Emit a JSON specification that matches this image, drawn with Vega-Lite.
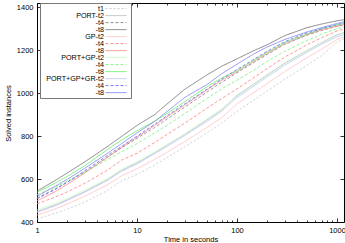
{
"$schema": "https://vega.github.io/schema/vega-lite/v6.json",
"width": 307, "height": 219,
"autosize": {"type": "none"},
"padding": {"left": 37, "top": 3, "right": 1, "bottom": 21},
"config": {"font": "Liberation Sans", "view": {"stroke": "black", "strokeWidth": 1},
 "axis": {"labelFontSize": 7.5, "titleFontSize": 7.5, "titleFontWeight": "normal", "labelColor": "black", "titleColor": "black", "domain": false, "grid": false, "tickColor": "black", "tickWidth": 0.8}},
"data": {"values": [
{"s":"t1","t":1,"v":414},{"s":"t1","t":1.5,"v":440},{"s":"t1","t":2,"v":460},{"s":"t1","t":3,"v":492},{"s":"t1","t":5,"v":545},{"s":"t1","t":7,"v":592},{"s":"t1","t":10,"v":622},{"s":"t1","t":15,"v":665},{"s":"t1","t":20,"v":700},{"s":"t1","t":30,"v":750},{"s":"t1","t":50,"v":815},{"s":"t1","t":70,"v":860},{"s":"t1","t":100,"v":915},{"s":"t1","t":150,"v":970},{"s":"t1","t":200,"v":1010},{"s":"t1","t":300,"v":1065},{"s":"t1","t":500,"v":1130},{"s":"t1","t":700,"v":1175},{"s":"t1","t":1000,"v":1238},{"s":"t1","t":1175,"v":1254},
{"s":"PORT-t2","t":1,"v":448},{"s":"PORT-t2","t":1.5,"v":478},{"s":"PORT-t2","t":2,"v":503},{"s":"PORT-t2","t":3,"v":542},{"s":"PORT-t2","t":5,"v":596},{"s":"PORT-t2","t":7,"v":640},{"s":"PORT-t2","t":10,"v":675},{"s":"PORT-t2","t":15,"v":722},{"s":"PORT-t2","t":20,"v":758},{"s":"PORT-t2","t":30,"v":808},{"s":"PORT-t2","t":50,"v":875},{"s":"PORT-t2","t":70,"v":922},{"s":"PORT-t2","t":100,"v":990},{"s":"PORT-t2","t":150,"v":1045},{"s":"PORT-t2","t":200,"v":1085},{"s":"PORT-t2","t":300,"v":1140},{"s":"PORT-t2","t":500,"v":1198},{"s":"PORT-t2","t":700,"v":1235},{"s":"PORT-t2","t":1000,"v":1272},{"s":"PORT-t2","t":1175,"v":1282},
{"s":"PORT-t4","t":1,"v":512},{"s":"PORT-t4","t":1.5,"v":552},{"s":"PORT-t4","t":2,"v":585},{"s":"PORT-t4","t":3,"v":632},{"s":"PORT-t4","t":5,"v":700},{"s":"PORT-t4","t":7,"v":745},{"s":"PORT-t4","t":10,"v":790},{"s":"PORT-t4","t":15,"v":840},{"s":"PORT-t4","t":20,"v":880},{"s":"PORT-t4","t":30,"v":935},{"s":"PORT-t4","t":50,"v":1005},{"s":"PORT-t4","t":70,"v":1050},{"s":"PORT-t4","t":100,"v":1095},{"s":"PORT-t4","t":150,"v":1145},{"s":"PORT-t4","t":200,"v":1180},{"s":"PORT-t4","t":300,"v":1228},{"s":"PORT-t4","t":500,"v":1270},{"s":"PORT-t4","t":700,"v":1292},{"s":"PORT-t4","t":1000,"v":1312},{"s":"PORT-t4","t":1175,"v":1318},
{"s":"PORT-t8","t":1,"v":544},{"s":"PORT-t8","t":1.5,"v":592},{"s":"PORT-t8","t":2,"v":628},{"s":"PORT-t8","t":3,"v":680},{"s":"PORT-t8","t":5,"v":750},{"s":"PORT-t8","t":7,"v":798},{"s":"PORT-t8","t":10,"v":850},{"s":"PORT-t8","t":15,"v":900},{"s":"PORT-t8","t":20,"v":950},{"s":"PORT-t8","t":30,"v":1018},{"s":"PORT-t8","t":50,"v":1085},{"s":"PORT-t8","t":70,"v":1125},{"s":"PORT-t8","t":100,"v":1160},{"s":"PORT-t8","t":150,"v":1200},{"s":"PORT-t8","t":200,"v":1225},{"s":"PORT-t8","t":300,"v":1268},{"s":"PORT-t8","t":500,"v":1305},{"s":"PORT-t8","t":700,"v":1322},{"s":"PORT-t8","t":1000,"v":1337},{"s":"PORT-t8","t":1175,"v":1342},
{"s":"GP-t2","t":1,"v":432},{"s":"GP-t2","t":1.5,"v":460},{"s":"GP-t2","t":2,"v":484},{"s":"GP-t2","t":3,"v":520},{"s":"GP-t2","t":5,"v":572},{"s":"GP-t2","t":7,"v":615},{"s":"GP-t2","t":10,"v":648},{"s":"GP-t2","t":15,"v":692},{"s":"GP-t2","t":20,"v":725},{"s":"GP-t2","t":30,"v":775},{"s":"GP-t2","t":50,"v":840},{"s":"GP-t2","t":70,"v":885},{"s":"GP-t2","t":100,"v":950},{"s":"GP-t2","t":150,"v":1005},{"s":"GP-t2","t":200,"v":1045},{"s":"GP-t2","t":300,"v":1100},{"s":"GP-t2","t":500,"v":1165},{"s":"GP-t2","t":700,"v":1205},{"s":"GP-t2","t":1000,"v":1250},{"s":"GP-t2","t":1175,"v":1262},
{"s":"GP-t4","t":1,"v":485},{"s":"GP-t4","t":1.5,"v":515},{"s":"GP-t4","t":2,"v":540},{"s":"GP-t4","t":3,"v":580},{"s":"GP-t4","t":5,"v":640},{"s":"GP-t4","t":7,"v":688},{"s":"GP-t4","t":10,"v":720},{"s":"GP-t4","t":15,"v":770},{"s":"GP-t4","t":20,"v":808},{"s":"GP-t4","t":30,"v":860},{"s":"GP-t4","t":50,"v":930},{"s":"GP-t4","t":70,"v":975},{"s":"GP-t4","t":100,"v":1020},{"s":"GP-t4","t":150,"v":1075},{"s":"GP-t4","t":200,"v":1115},{"s":"GP-t4","t":300,"v":1168},{"s":"GP-t4","t":500,"v":1225},{"s":"GP-t4","t":700,"v":1258},{"s":"GP-t4","t":1000,"v":1290},{"s":"GP-t4","t":1175,"v":1298},
{"s":"GP-t8","t":1,"v":498},{"s":"GP-t8","t":1.5,"v":540},{"s":"GP-t8","t":2,"v":575},{"s":"GP-t8","t":3,"v":628},{"s":"GP-t8","t":5,"v":700},{"s":"GP-t8","t":7,"v":748},{"s":"GP-t8","t":10,"v":795},{"s":"GP-t8","t":15,"v":850},{"s":"GP-t8","t":20,"v":890},{"s":"GP-t8","t":30,"v":945},{"s":"GP-t8","t":50,"v":1015},{"s":"GP-t8","t":70,"v":1060},{"s":"GP-t8","t":100,"v":1100},{"s":"GP-t8","t":150,"v":1150},{"s":"GP-t8","t":200,"v":1185},{"s":"GP-t8","t":300,"v":1230},{"s":"GP-t8","t":500,"v":1272},{"s":"GP-t8","t":700,"v":1295},{"s":"GP-t8","t":1000,"v":1312},{"s":"GP-t8","t":1175,"v":1320},
{"s":"PORT+GP-t2","t":1,"v":455},{"s":"PORT+GP-t2","t":1.5,"v":485},{"s":"PORT+GP-t2","t":2,"v":510},{"s":"PORT+GP-t2","t":3,"v":548},{"s":"PORT+GP-t2","t":5,"v":600},{"s":"PORT+GP-t2","t":7,"v":645},{"s":"PORT+GP-t2","t":10,"v":680},{"s":"PORT+GP-t2","t":15,"v":725},{"s":"PORT+GP-t2","t":20,"v":760},{"s":"PORT+GP-t2","t":30,"v":810},{"s":"PORT+GP-t2","t":50,"v":880},{"s":"PORT+GP-t2","t":70,"v":925},{"s":"PORT+GP-t2","t":100,"v":985},{"s":"PORT+GP-t2","t":150,"v":1040},{"s":"PORT+GP-t2","t":200,"v":1080},{"s":"PORT+GP-t2","t":300,"v":1135},{"s":"PORT+GP-t2","t":500,"v":1195},{"s":"PORT+GP-t2","t":700,"v":1232},{"s":"PORT+GP-t2","t":1000,"v":1268},{"s":"PORT+GP-t2","t":1175,"v":1278},
{"s":"PORT+GP-t4","t":1,"v":528},{"s":"PORT+GP-t4","t":1.5,"v":560},{"s":"PORT+GP-t4","t":2,"v":590},{"s":"PORT+GP-t4","t":3,"v":632},{"s":"PORT+GP-t4","t":5,"v":690},{"s":"PORT+GP-t4","t":7,"v":727},{"s":"PORT+GP-t4","t":10,"v":765},{"s":"PORT+GP-t4","t":15,"v":815},{"s":"PORT+GP-t4","t":20,"v":850},{"s":"PORT+GP-t4","t":30,"v":905},{"s":"PORT+GP-t4","t":50,"v":975},{"s":"PORT+GP-t4","t":70,"v":1020},{"s":"PORT+GP-t4","t":100,"v":1060},{"s":"PORT+GP-t4","t":150,"v":1110},{"s":"PORT+GP-t4","t":200,"v":1148},{"s":"PORT+GP-t4","t":300,"v":1195},{"s":"PORT+GP-t4","t":500,"v":1245},{"s":"PORT+GP-t4","t":700,"v":1275},{"s":"PORT+GP-t4","t":1000,"v":1300},{"s":"PORT+GP-t4","t":1175,"v":1308},
{"s":"PORT+GP-t8","t":1,"v":538},{"s":"PORT+GP-t8","t":1.5,"v":580},{"s":"PORT+GP-t8","t":2,"v":612},{"s":"PORT+GP-t8","t":3,"v":662},{"s":"PORT+GP-t8","t":5,"v":735},{"s":"PORT+GP-t8","t":7,"v":782},{"s":"PORT+GP-t8","t":10,"v":825},{"s":"PORT+GP-t8","t":15,"v":870},{"s":"PORT+GP-t8","t":20,"v":905},{"s":"PORT+GP-t8","t":30,"v":960},{"s":"PORT+GP-t8","t":50,"v":1030},{"s":"PORT+GP-t8","t":70,"v":1070},{"s":"PORT+GP-t8","t":100,"v":1105},{"s":"PORT+GP-t8","t":150,"v":1155},{"s":"PORT+GP-t8","t":200,"v":1190},{"s":"PORT+GP-t8","t":300,"v":1235},{"s":"PORT+GP-t8","t":500,"v":1275},{"s":"PORT+GP-t8","t":700,"v":1300},{"s":"PORT+GP-t8","t":1000,"v":1318},{"s":"PORT+GP-t8","t":1175,"v":1325},
{"s":"PORT+GP+GR-t2","t":1,"v":445},{"s":"PORT+GP+GR-t2","t":1.5,"v":474},{"s":"PORT+GP+GR-t2","t":2,"v":500},{"s":"PORT+GP+GR-t2","t":3,"v":538},{"s":"PORT+GP+GR-t2","t":5,"v":592},{"s":"PORT+GP+GR-t2","t":7,"v":636},{"s":"PORT+GP+GR-t2","t":10,"v":670},{"s":"PORT+GP+GR-t2","t":15,"v":718},{"s":"PORT+GP+GR-t2","t":20,"v":752},{"s":"PORT+GP+GR-t2","t":30,"v":802},{"s":"PORT+GP+GR-t2","t":50,"v":868},{"s":"PORT+GP+GR-t2","t":70,"v":915},{"s":"PORT+GP+GR-t2","t":100,"v":980},{"s":"PORT+GP+GR-t2","t":150,"v":1035},{"s":"PORT+GP+GR-t2","t":200,"v":1075},{"s":"PORT+GP+GR-t2","t":300,"v":1130},{"s":"PORT+GP+GR-t2","t":500,"v":1190},{"s":"PORT+GP+GR-t2","t":700,"v":1228},{"s":"PORT+GP+GR-t2","t":1000,"v":1262},{"s":"PORT+GP+GR-t2","t":1175,"v":1272},
{"s":"PORT+GP+GR-t4","t":1,"v":508},{"s":"PORT+GP+GR-t4","t":1.5,"v":550},{"s":"PORT+GP+GR-t4","t":2,"v":585},{"s":"PORT+GP+GR-t4","t":3,"v":638},{"s":"PORT+GP+GR-t4","t":5,"v":708},{"s":"PORT+GP+GR-t4","t":7,"v":752},{"s":"PORT+GP+GR-t4","t":10,"v":800},{"s":"PORT+GP+GR-t4","t":15,"v":855},{"s":"PORT+GP+GR-t4","t":20,"v":895},{"s":"PORT+GP+GR-t4","t":30,"v":950},{"s":"PORT+GP+GR-t4","t":50,"v":1018},{"s":"PORT+GP+GR-t4","t":70,"v":1065},{"s":"PORT+GP+GR-t4","t":100,"v":1110},{"s":"PORT+GP+GR-t4","t":150,"v":1160},{"s":"PORT+GP+GR-t4","t":200,"v":1195},{"s":"PORT+GP+GR-t4","t":300,"v":1240},{"s":"PORT+GP+GR-t4","t":500,"v":1280},{"s":"PORT+GP+GR-t4","t":700,"v":1300},{"s":"PORT+GP+GR-t4","t":1000,"v":1320},{"s":"PORT+GP+GR-t4","t":1175,"v":1327},
{"s":"PORT+GP+GR-t8","t":1,"v":520},{"s":"PORT+GP+GR-t8","t":1.5,"v":565},{"s":"PORT+GP+GR-t8","t":2,"v":598},{"s":"PORT+GP+GR-t8","t":3,"v":650},{"s":"PORT+GP+GR-t8","t":5,"v":718},{"s":"PORT+GP+GR-t8","t":7,"v":765},{"s":"PORT+GP+GR-t8","t":10,"v":815},{"s":"PORT+GP+GR-t8","t":15,"v":868},{"s":"PORT+GP+GR-t8","t":20,"v":915},{"s":"PORT+GP+GR-t8","t":30,"v":980},{"s":"PORT+GP+GR-t8","t":50,"v":1040},{"s":"PORT+GP+GR-t8","t":70,"v":1090},{"s":"PORT+GP+GR-t8","t":100,"v":1135},{"s":"PORT+GP+GR-t8","t":150,"v":1185},{"s":"PORT+GP+GR-t8","t":200,"v":1215},{"s":"PORT+GP+GR-t8","t":300,"v":1250},{"s":"PORT+GP+GR-t8","t":500,"v":1285},{"s":"PORT+GP+GR-t8","t":700,"v":1305},{"s":"PORT+GP+GR-t8","t":1000,"v":1325},{"s":"PORT+GP+GR-t8","t":1175,"v":1332}
]},
"resolve": {"axis": {"x": "independent", "y": "independent"}},
"layer": [
 {"mark": {"type": "line", "strokeWidth": 0.8},
  "encoding": {
   "x": {"field": "t", "type": "quantitative", "scale": {"type": "log", "domain": [1, 1175]},
    "axis": {"orient": "bottom", "title": "Time in seconds", "values": [1,2,3,4,5,6,7,8,9,10,20,30,40,50,60,70,80,90,100,200,300,400,500,600,700,800,900,1000],
     "labelExpr": "indexof([1,10,100,1000], datum.value) >= 0 ? format(datum.value, 'd') : ''",
     "tickSize": {"condition": {"test": "indexof([1,10,100,1000], datum.value) >= 0", "value": -4}, "value": -2},
     "labelPadding": 8, "titleY": 19, "titleBaseline": "alphabetic", "labelFlush": false, "labelOverlap": false}},
   "y": {"field": "v", "type": "quantitative", "scale": {"domain": [400, 1420]},
    "axis": {"orient": "left", "title": "Solved instances", "format": "d", "values": [400,600,800,1000,1200,1400], "tickSize": -4, "labelPadding": 8, "titleX": -29, "titleY": 110, "titleAngle": 270, "titleBaseline": "middle", "titleAlign": "center", "labelFlush": false}},
   "color": {"field": "s", "type": "nominal",
    "scale": {"domain": ["t1","PORT-t2","PORT-t4","PORT-t8","GP-t2","GP-t4","GP-t8","PORT+GP-t2","PORT+GP-t4","PORT+GP-t8","PORT+GP+GR-t2","PORT+GP+GR-t4","PORT+GP+GR-t8"],
     "range": ["#c4c4c4","#b4b4b4","#808080","#6a6a6a","#ffbcbc","#ff7c7c","#ff8080","#c0ffc0","#7cf07c","#58ec58","#c0c0ff","#6464ff","#7878f0"]},
    "legend": {"orient": "none", "legendX": 3, "legendY": 0, "title": null, "symbolType": "M-4.2,0H4.2", "symbolSize": 25, "symbolStrokeWidth": 0.9, "labelFontSize": 7.2, "labelAlign": "right", "labelOffset": 0, "rowPadding": -3, "padding": 2, "strokeColor": "#777777", "fillColor": "white", "labelColor": "black",
     "labelExpr": "datum.label == 't1' || indexof(datum.label, 't2') >= 0 ? datum.label : slice(datum.label, -3)",
     "encode": {"symbols": {"update": {"x": {"value": 74}}}, "labels": {"update": {"x": {"value": 62}, "align": {"value": "right"}}}}}},
   "strokeDash": {"field": "s", "type": "nominal",
    "scale": {"domain": ["t1","PORT-t2","PORT-t4","PORT-t8","GP-t2","GP-t4","GP-t8","PORT+GP-t2","PORT+GP-t4","PORT+GP-t8","PORT+GP+GR-t2","PORT+GP+GR-t4","PORT+GP+GR-t8"],
     "range": [[2,2],[1,0],[3,2],[1,0],[1,0],[3,2],[1,0],[1,0],[3,2],[1,0],[1,0],[3,2],[1,0]]},
    "legend": {"orient": "none", "legendX": 3, "legendY": 0, "title": null, "symbolType": "M-4.2,0H4.2", "symbolSize": 25, "symbolStrokeWidth": 0.9, "labelFontSize": 7.2, "labelAlign": "right", "labelOffset": 0, "rowPadding": -3, "padding": 2, "strokeColor": "#777777", "fillColor": "white", "labelColor": "black",
     "labelExpr": "datum.label == 't1' || indexof(datum.label, 't2') >= 0 ? datum.label : slice(datum.label, -3)",
     "encode": {"symbols": {"update": {"x": {"value": 74}}}, "labels": {"update": {"x": {"value": 62}, "align": {"value": "right"}}}}}}
  }},
 {"mark": {"type": "point", "opacity": 0},
  "encoding": {
   "x": {"field": "t", "type": "quantitative", "scale": {"type": "log", "domain": [1, 1175]},
    "axis": {"orient": "top", "title": null, "labels": false, "values": [1,2,3,4,5,6,7,8,9,10,20,30,40,50,60,70,80,90,100,200,300,400,500,600,700,800,900,1000],
     "tickSize": {"condition": {"test": "indexof([1,10,100,1000], datum.value) >= 0", "value": -4}, "value": -2}}},
   "y": {"field": "v", "type": "quantitative", "scale": {"domain": [400, 1420]},
    "axis": {"orient": "right", "title": null, "labels": false, "values": [400,600,800,1000,1200,1400], "tickSize": -4}}
  }}
]
}
